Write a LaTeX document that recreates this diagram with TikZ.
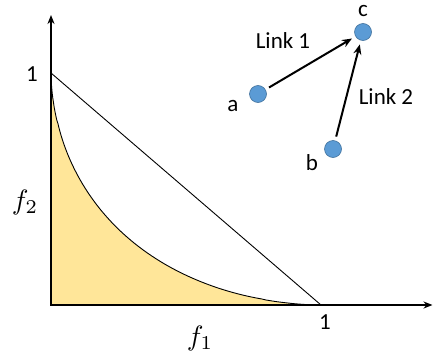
\documentclass[tikz,border=0pt]{standalone}
\usepackage{fontspec}
\setmainfont{Carlito}
\usetikzlibrary{arrows.meta}
\definecolor{dotblue}{HTML}{5B9BD5}
\definecolor{dotedge}{HTML}{41719C}
\definecolor{regionyellow}{HTML}{FFE699}
\tikzset{
  dot/.style={circle,fill=dotblue,draw=dotedge,line width=0.6pt,minimum size=17pt,inner sep=0pt},
  lbl/.style={font=\fontsize{23}{26}\selectfont,inner sep=0pt},
  mathlbl/.style={inner sep=0pt},
  axis/.style={line width=2pt,-{Stealth[length=9pt,width=7pt]}},
  link/.style={line width=2pt,-{Stealth[length=10pt,width=8pt]},shorten <=4pt,shorten >=4pt}
}
\begin{document}
\begin{tikzpicture}[x=1pt,y=-1pt]
\useasboundingbox (0,0) rectangle (433,356);
\coordinate (O) at (51,305);
\coordinate (Y1) at (51,73);
\coordinate (X1) at (321,305);
\coordinate (Ytop) at (51,15);
\coordinate (Xend) at (432.5,305);
% feasible region
\fill[regionyellow] (O) -- (Y1)
  -- plot[domain=0.002:0.998,samples=120,variable=\u] ({51+270*(\u)^1.8},{305-232*(1-\u)^1.8})
  -- (X1) -- cycle;
\draw[line width=0.9pt] (Y1)
  -- plot[domain=0.002:0.998,samples=120,variable=\u] ({51+270*(\u)^1.8},{305-232*(1-\u)^1.8})
  -- (X1);
\draw[line width=0.9pt] (Y1) -- (X1);
% axes
\draw[axis] (O) -- (Ytop);
\draw[axis] ([xshift=-1pt]O) -- (Xend);
% axis labels
\node[lbl] (one y) at (32,74) {1};
\node[lbl] (one x) at (325,322) {1};
\node[mathlbl] (f2) at (25,202) {\scalebox{2.8}{$f_2$}};
\node[mathlbl] (f1) at (200,338) {\scalebox{2.8}{$f_1$}};
% network
\node[dot] (a) at (258,94) {};
\node[dot] (b) at (333,149) {};
\node[dot] (c) at (363,32) {};
\node[lbl] (la) at (233,106) {a};
\node[lbl] (lb) at (312,163) {b};
\node[lbl] (lc) at (363,11) {c};
\draw[link] (a) -- (c);
\draw[link] (b) -- (c);
\node[lbl] (l1) at (283,41) {Link 1};
\node[lbl] (l2) at (386,97) {Link 2};
\end{tikzpicture}
\end{document}
